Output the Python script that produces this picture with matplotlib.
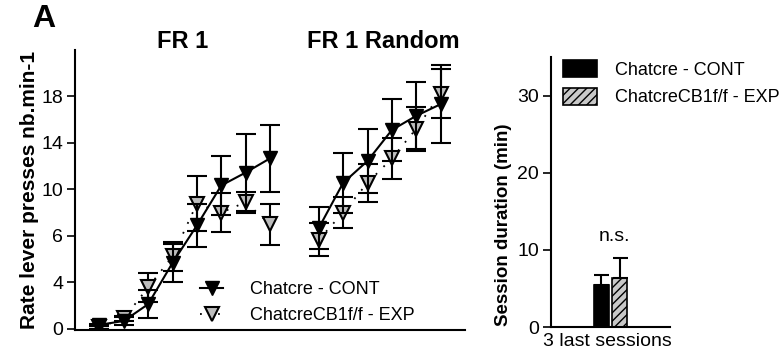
import matplotlib
matplotlib.use("Agg")
import matplotlib.pyplot as plt
import numpy as np
from matplotlib.lines import Line2D

plt.rcParams['font.family'] = ['Liberation Sans', 'DejaVu Sans']
plt.rcParams['hatch.linewidth'] = 1.0

# ---- Left panel data (rate of lever presses) ----
x_fr1 = [1, 2, 3, 4, 5, 6, 7, 8]
x_rand = [10, 11, 12, 13, 14, 15]

cont_fr1 = [0.3, 0.6, 1.9, 5.1, 8.0, 11.1, 12.1, 13.2]
cont_fr1_err = [0.1, 0.3, 1.1, 1.5, 1.7, 2.3, 3.0, 2.6]
exp_fr1 = [0.1, 0.8, 3.2, 5.6, 9.7, 9.0, 9.8, 8.1]
exp_fr1_err = [0.1, 0.2, 1.1, 1.1, 2.1, 1.5, 0.8, 1.6]

cont_rand = [7.8, 11.3, 13.0, 15.4, 16.5, 17.4]
cont_rand_err = [1.6, 2.3, 2.5, 2.4, 2.6, 3.0]
exp_rand = [6.9, 9.0, 11.3, 13.2, 15.5, 18.2]
exp_rand_err = [1.3, 1.2, 1.5, 1.6, 1.7, 1.9]

left_ticks = [0, 3.6, 7.2, 10.8, 14.4, 18]
left_tick_labels = ['0', '4', '6', '10', '14', '18']

# ---- Right panel data (session duration) ----
groups = ['Chatcre - CONT', 'ChatcreCB1f/f - EXP']
duration = [5.45, 6.35]
duration_err = [1.3, 2.6]
right_ticks = [0, 10, 20, 30]

fig = plt.figure(figsize=(7.83, 3.58), dpi=100)
ax = fig.add_axes([75/783, 1-330/358, 390/783, 280/358])
ax2 = fig.add_axes([551/783, 1-327/358, 119/783, 270/358])

gray = '#bdbdbd'
cap = 7.0
for xs, ys, es in [(x_fr1, exp_fr1, exp_fr1_err), (x_rand, exp_rand, exp_rand_err)]:
    ax.errorbar(xs, ys, yerr=es, color='black', ls=(0, (1, 5)), lw=1.3,
                marker='v', ms=10, mfc=gray, mec='black', mew=1.5,
                ecolor='black', elinewidth=1.5, capsize=cap, capthick=1.5, zorder=2)
for xs, ys, es in [(x_fr1, cont_fr1, cont_fr1_err), (x_rand, cont_rand, cont_rand_err)]:
    ax.errorbar(xs, ys, yerr=es, color='black', ls='-', lw=1.5,
                marker='v', ms=10, mfc='black', mec='black',
                ecolor='black', elinewidth=1.5, capsize=cap, capthick=1.5, zorder=3)

ax.set_xlim(0, 16)
ax.set_ylim(-0.1, 21.6)
ax.set_yticks(left_ticks)
ax.set_yticklabels(left_tick_labels)
ax.set_xticks([])
for s in ['top', 'right']:
    ax.spines[s].set_visible(False)
for s in ['left', 'bottom']:
    ax.spines[s].set_linewidth(1.5)
ax.tick_params(axis='y', direction='out', length=5.5, width=1.2, labelsize=14, pad=3)
ax.set_ylabel('Rate lever presses nb.min-1', fontsize=15, fontweight='bold', labelpad=2)

h1 = Line2D([], [], color='black', ls='-', lw=1.5, marker='v', ms=10, mfc='black', mec='black')
h2 = Line2D([], [], color='black', ls=(0, (1, 4)), lw=1.3, marker='v', ms=10, mfc=gray, mec='black', mew=1.5)
ax.legend([h1, h2], groups, loc='upper left', bbox_to_anchor=(0.32, 0.175), frameon=False,
          fontsize=13, handlelength=1.3, handletextpad=1.5, labelspacing=0.5, borderpad=0,
          borderaxespad=0)

fig.text(183/783, 1-42/358, 'FR 1', ha='center', va='center', fontsize=17, fontweight='bold')
fig.text(383/783, 1-42/358, 'FR 1 Random', ha='center', va='center', fontsize=17, fontweight='bold')
fig.text(44/783, 1-19/358, 'A', ha='center', va='center', fontsize=23, fontweight='bold')

# ---- Right panel ----
bx = [0.424, 0.576]
bw = 0.126
b1 = ax2.bar(bx[0], duration[0], width=bw, color='black', edgecolor='black', lw=1.2)
b2 = ax2.bar(bx[1], duration[1], width=bw, color='#c8c8c8', edgecolor='black', lw=1.2, hatch='////')
ax2.errorbar(bx, duration, yerr=[[0, 0], duration_err], fmt='none', ecolor='black',
             elinewidth=1.5, capsize=5.4, capthick=1.5)
ax2.set_xlim(0, 1)
ax2.set_ylim(0, 35)
ax2.set_yticks(right_ticks)
ax2.set_xticks([0.47])
ax2.set_xticklabels(['3 last sessions'])
ax2.tick_params(axis='x', length=0, labelsize=14, pad=4)
ax2.tick_params(axis='y', direction='out', length=5.5, width=1.2, labelsize=14, pad=3)
for s in ['top', 'right']:
    ax2.spines[s].set_visible(False)
for s in ['left', 'bottom']:
    ax2.spines[s].set_linewidth(1.5)
ax2.set_ylabel('Session duration (min)', fontsize=13.5, fontweight='bold', labelpad=4)
ax2.yaxis.set_label_coords(-0.33, 0.378)
ax2.text(0.53, 11.7, 'n.s.', ha='center', va='center', fontsize=14)
ax2.legend([b1, b2], groups, loc='upper left', bbox_to_anchor=(0.10, 0.99), frameon=False,
           fontsize=13, handlelength=1.9, handleheight=1.1, handletextpad=1.0,
           labelspacing=0.5, borderpad=0, borderaxespad=0)

fig.savefig('out.png', dpi=100)
